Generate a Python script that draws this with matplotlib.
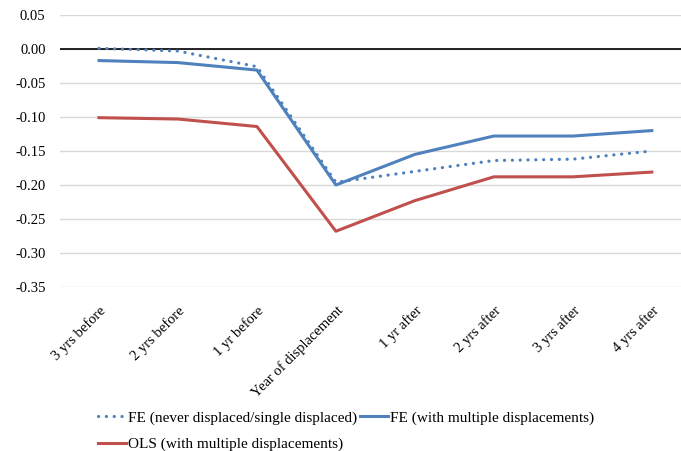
import matplotlib
matplotlib.use("Agg")
import matplotlib.pyplot as plt

plt.rcParams['font.family'] = ['Liberation Serif', 'DejaVu Serif']

categories = ["3 yrs before", "2 yrs before", "1 yr before", "Year of displacement",
              "1 yr after", "2 yrs after", "3 yrs after", "4 yrs after"]
fe_single = [0.001, -0.003, -0.026, -0.196, -0.180, -0.164, -0.162, -0.150]
fe_multiple = [-0.017, -0.020, -0.031, -0.200, -0.155, -0.128, -0.128, -0.120]
ols_multiple = [-0.101, -0.103, -0.114, -0.268, -0.223, -0.188, -0.188, -0.181]
yticks = [0.05, 0.00, -0.05, -0.10, -0.15, -0.20, -0.25, -0.30, -0.35]

blue = "#4F81BD"
red = "#C0504D"

fig = plt.figure(figsize=(6.81, 4.51), dpi=100)
# plot area in figure fractions (Excel-like layout, right side cropped)
ax = fig.add_axes([59.5 / 681, 1 - 287 / 451, 1 - 59.5 / 681, (287 - 15) / 451])

x = list(range(len(categories)))
l1, = ax.plot(x, fe_single, color=blue, lw=2.3, linestyle=(0, (0.05, 2.4)),
              dash_capstyle='round', label="FE (never displaced/single displaced)")
l2, = ax.plot(x, fe_multiple, color=blue, lw=2.2, label="FE (with multiple displacements)")
l3, = ax.plot(x, ols_multiple, color=red, lw=2.2, label="OLS (with multiple displacements)")

ax.set_ylim(-0.35, 0.05)
ax.set_xlim(-0.5, 7.37)
ax.set_yticks(yticks)
ax.set_yticklabels([f"{v:.2f}" for v in yticks])
ax.grid(axis='y', color='#D9D9D9', lw=1)
ax.axhline(0, color='black', lw=1.2, zorder=1)
ax.set_axisbelow(True)
for s in ax.spines.values():
    s.set_visible(False)

ax.set_xticks(x)
ax.set_xticklabels(categories, rotation=45, ha='right', va='top', rotation_mode='anchor')
ax.tick_params(axis='both', length=0, labelsize=10.5, colors='black')
ax.tick_params(axis='y', pad=10)
ax.tick_params(axis='x', pad=12)

# column-major fill: first column gets l1, l3; second gets l2
leg = fig.legend([l1, l3, l2], [l1.get_label(), l3.get_label(), l2.get_label()],
                 loc='upper left', bbox_to_anchor=(92 / 681, 1 - 405 / 451), ncol=2,
                 frameon=False, fontsize=11, handlelength=1.8, handletextpad=0.15,
                 columnspacing=0.2, labelspacing=0.8, borderaxespad=0)

fig.savefig("out.png", dpi=100)
